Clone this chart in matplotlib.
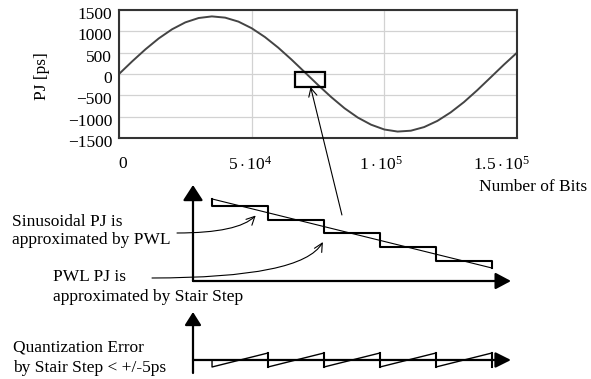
import matplotlib
matplotlib.use('Agg')
import matplotlib.pyplot as plt
import matplotlib.transforms as mtransforms
from matplotlib.patches import Rectangle

# ---------------- data ----------------
bits = [0, 5000, 10000, 15000, 20000, 25000, 30000, 35000, 40000, 45000,
        50000, 55000, 60000, 65000, 70000, 75000, 80000, 85000, 90000,
        95000, 100000, 105000, 110000, 115000, 120000, 125000, 130000,
        135000, 140000, 145000, 150000]
pj_ps = [0, 298, 580, 835, 1048, 1210, 1312, 1350, 1321, 1228,
         1073, 866, 618, 339, 42, -256, -542, -803, -1021,
         -1188, -1301, -1349, -1329, -1244, -1099, -900, -659,
         -381, -84, 215, 500]
y_ticks = [-1500, -1000, -500, 0, 500, 1000, 1500]
y_tick_labels = ['\u22121500', '\u22121000', '\u2212500', '0', '500', '1000', '1500']
x_ticks = [0, 50000, 100000, 150000]
x_tick_labels = ['0', r'$5\cdot10^4$', r'$1\cdot10^5$', r'$1.5\cdot10^5$']
zoom_box_bits = [66500, 77800]
zoom_box_ps = [-302, 47]

# schematic: PWL segment approximated by a stair step
step_edges = [0, 1, 2, 3, 4, 5]
step_levels = [4.5, 3.5, 2.5, 1.5, 0.5]
pwl_x = [0, 5]
pwl_y = [5.0, 0.0]

# ---------------- style ----------------
plt.rcParams['font.family'] = ['Liberation Serif', 'DejaVu Serif']
plt.rcParams['mathtext.fontset'] = 'custom'
plt.rcParams['mathtext.rm'] = 'Liberation Serif'
plt.rcParams['mathtext.it'] = 'Liberation Serif:italic'
FS = 12.5

W, H = 591, 379
fig = plt.figure(figsize=(W / 100, H / 100), dpi=100)
fig.patch.set_facecolor('white')


def fx(px):
    return px / W


def fy(py):
    return 1 - py / H


# ---------------- top plot ----------------
ax = fig.add_axes([fx(119), fy(138), fx(517) - fx(119), fy(10) - fy(138)])
ax.plot(bits, pj_ps, color='#444444', lw=1.4)
ax.set_xlim(0, 150000)
ax.set_ylim(-1500, 1500)
ax.set_yticks(y_ticks)
ax.set_yticklabels(y_tick_labels, fontsize=FS)
ax.set_xticks(x_ticks)
ax.set_xticklabels(x_tick_labels, fontsize=FS)
ax.tick_params(length=0)
ax.tick_params(axis='y', pad=5)
ax.tick_params(axis='x', pad=13)
ax.grid(True, color='#d2d2d2', lw=0.9)
ax.set_axisbelow(True)
for s in ax.spines.values():
    s.set_linewidth(1.5)
    s.set_color('#333333')

for lab in ax.get_yticklabels():
    lab.set_transform(lab.get_transform() +
                      mtransforms.ScaledTranslation(0, -0.03, fig.dpi_scale_trans))
x_offsets = [0.04, -0.02, -0.04, -0.16]
for lab, off in zip(ax.get_xticklabels(), x_offsets):
    lab.set_transform(lab.get_transform() +
                      mtransforms.ScaledTranslation(off, 0, fig.dpi_scale_trans))

ax.add_patch(Rectangle((zoom_box_bits[0], zoom_box_ps[0]),
                       zoom_box_bits[1] - zoom_box_bits[0],
                       zoom_box_ps[1] - zoom_box_ps[0],
                       fill=False, ec='black', lw=1.6, clip_on=False, zorder=5))

fig.text(fx(42), fy(76), 'PJ [ps]', rotation=90, ha='center', va='center', fontsize=FS)
fig.text(fx(479), fy(187), 'Number of Bits', ha='left', va='center', fontsize=FS)

# ---------------- middle schematic ----------------
axm = fig.add_axes([fx(193), fy(281), fx(511) - fx(193), fy(185) - fy(281)])
axm.set_xlim(-0.34, 5.34)
axm.set_ylim(-0.94, 6.01)
axm.axis('off')

stair_x = [step_edges[0]]
stair_y = [pwl_y[0]]
for i, lev in enumerate(step_levels):
    stair_x += [step_edges[i], step_edges[i + 1]]
    stair_y += [lev, lev]
stair_x.append(step_edges[-1])
stair_y.append(pwl_y[-1])
axm.plot(stair_x, stair_y, color='black', lw=1.5, clip_on=False)
axm.plot(pwl_x, pwl_y, color='black', lw=0.8, clip_on=False)


def axis_arrow(a, xy, xytext, coords, hl, hw):
    a.annotate('', xy=xy, xytext=xytext, xycoords=coords, textcoords=coords,
               arrowprops=dict(arrowstyle='-|>,head_length=%g,head_width=%g' % (hl, hw),
                               mutation_scale=1, lw=1.6, color='black',
                               shrinkA=0, shrinkB=0), annotation_clip=False)


axis_arrow(axm, (0, 1), (0, 0), 'axes fraction', 9.4, 6.1)
axis_arrow(axm, (1, 0), (0, 0), 'axes fraction', 9.4, 5.0)

# ---------------- bottom schematic: quantization error ----------------
axb = fig.add_axes([fx(193), fy(373), fx(511) - fx(193), fy(312) - fy(373)])
axb.set_xlim(-0.34, 5.34)
axb.set_ylim(-0.93, 3.43)
axb.axis('off')

err_x = [step_edges[0]]
err_y = [0.0]
for i, lev in enumerate(step_levels):
    p0 = pwl_y[0] + (pwl_y[1] - pwl_y[0]) * (step_edges[i] - pwl_x[0]) / (pwl_x[1] - pwl_x[0])
    p1 = pwl_y[0] + (pwl_y[1] - pwl_y[0]) * (step_edges[i + 1] - pwl_x[0]) / (pwl_x[1] - pwl_x[0])
    err_x += [step_edges[i], step_edges[i + 1]]
    err_y += [lev - p0, lev - p1]
err_x.append(step_edges[-1])
err_y.append(0.0)
axb.plot(err_x, err_y, color='black', lw=1.0, clip_on=False)
# vertical drops thicker
for e in step_edges[1:]:
    axb.plot([e, e], [-0.5, 0.5], color='black', lw=1.5, clip_on=False)

axis_arrow(axb, (0, 1), (0, 0), 'axes fraction', 7.9, 5.0)
axb.annotate('', xy=(1, 0), xytext=(0, 0),
             xycoords=axb.get_yaxis_transform(), textcoords=axb.get_yaxis_transform(),
             arrowprops=dict(arrowstyle='-|>,head_length=9.4,head_width=4.7',
                             mutation_scale=1, lw=1.6, color='black',
                             shrinkA=0, shrinkB=0), annotation_clip=False)

# ---------------- annotation texts and arrows ----------------
fig.text(fx(12), fy(222), 'Sinusoidal PJ is', ha='left', va='center', fontsize=FS)
fig.text(fx(12), fy(240), 'approximated by PWL', ha='left', va='center', fontsize=FS)
fig.text(fx(53), fy(277), 'PWL PJ is', ha='left', va='center', fontsize=FS)
fig.text(fx(53), fy(297), 'approximated by Stair Step', ha='left', va='center', fontsize=FS)
fig.text(fx(13), fy(348), 'Quantization Error', ha='left', va='center', fontsize=FS)
fig.text(fx(13), fy(368), 'by Stair Step < +/-5ps', ha='left', va='center', fontsize=FS)

thin = dict(arrowstyle='->,head_length=6,head_width=3', mutation_scale=1,
            lw=0.8, color='black', shrinkA=0, shrinkB=0)

# curved arrow 1 -> onto PWL line
axm.annotate('', xy=(0.78, 3.80), xycoords='data',
             xytext=(fx(177), fy(233)), textcoords='figure fraction',
             arrowprops=dict(thin, connectionstyle='angle3,angleA=0,angleB=45'),
             annotation_clip=False)
# curved arrow 2 -> onto stair step
axm.annotate('', xy=(1.98, 1.88), xycoords='data',
             xytext=(fx(152), fy(278)), textcoords='figure fraction',
             arrowprops=dict(thin, connectionstyle='angle3,angleA=0,angleB=60'),
             annotation_clip=False)
# long arrow from schematic to zoom box
ax.annotate('', xy=(72200, -302), xycoords=ax.transData,
            xytext=(2.32, 3.84), textcoords=axm.transData,
            arrowprops=dict(thin), annotation_clip=False)

fig.savefig('out.png', dpi=100, facecolor='white')
